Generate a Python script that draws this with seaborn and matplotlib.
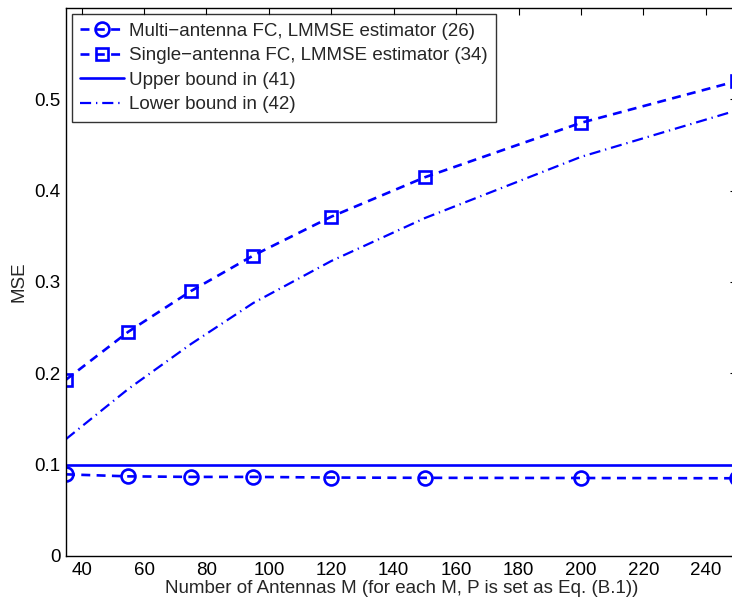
import numpy as np
import pandas as pd
import seaborn as sns
import matplotlib.pyplot as plt

# antennas M and MSE values
antennas = [35, 55, 75, 95, 120, 150, 200, 250]
mse_multi = [0.0894, 0.0872, 0.0866, 0.0866, 0.0859, 0.0856, 0.0854, 0.0851]
mse_single = [0.193, 0.2456, 0.290, 0.329, 0.3715, 0.4147, 0.4743, 0.520]
upper_bound = [0.1, 0.1, 0.1, 0.1, 0.1, 0.1, 0.1, 0.1]
lower_bound = [0.128, 0.183, 0.232, 0.277, 0.323, 0.370, 0.437, 0.488]

labels = ["Multi\u2212antenna FC, LMMSE estimator (26)",
          "Single\u2212antenna FC, LMMSE estimator (34)",
          "Upper bound in (41)",
          "Lower bound in (42)"]
x_ticks = [40, 60, 80, 100, 120, 140, 160, 180, 200, 220, 240]
y_ticks = [0, 0.1, 0.2, 0.3, 0.4, 0.5]

sns.set_theme(style="white")
plt.rcParams['font.family'] = ['Liberation Sans', 'DejaVu Sans']
fs = 13.5
plt.rcParams['font.size'] = fs

fig = plt.figure(figsize=(7.32, 6.06), dpi=100)
ax = fig.add_axes([66/732, 50/606, 671/732, 548/606])

lw = 1.9
sns.lineplot(x=antennas, y=mse_multi, ax=ax, color="blue", lw=lw,
             linestyle=(0, (3.4, 2.4)), marker="o", markersize=10,
             markerfacecolor="none", markeredgecolor="blue", markeredgewidth=1.9,
             label=labels[0])
sns.lineplot(x=antennas, y=mse_single, ax=ax, color="blue", lw=lw,
             linestyle=(0, (3.4, 2.4)), marker="s", markersize=8,
             markerfacecolor="none", markeredgecolor="blue", markeredgewidth=1.9,
             label=labels[1])
sns.lineplot(x=antennas, y=upper_bound, ax=ax, color="blue", lw=lw,
             linestyle="-", label=labels[2])
sns.lineplot(x=antennas, y=lower_bound, ax=ax, color="blue", lw=1.6,
             linestyle=(0, (5, 2.2, 0.6, 2.2)), label=labels[3])

ax.set_xlim(35, 250)
ax.set_ylim(0, 0.6)
ax.set_xticks(x_ticks)
ax.set_yticks(y_ticks)
ax.set_yticklabels(["0", "0.1", "0.2", "0.3", "0.4", "0.5"])
ax.tick_params(direction="in", length=5, width=0.8, top=True, right=True,
               colors="black", labelsize=fs, pad=4)
for s in ax.spines.values():
    s.set_color("black")
    s.set_linewidth(1.0)

ax.set_xlabel("Number of Antennas M (for each M, P is set as Eq. (B.1))", fontsize=fs, labelpad=1)
ax.set_ylabel("MSE", fontsize=fs, labelpad=5)

leg = ax.legend(loc="upper left", bbox_to_anchor=(0.009, 0.989), borderaxespad=0,
                fontsize=fs, frameon=True, fancybox=False, shadow=False,
                handlelength=2.3, handletextpad=0.3, labelspacing=0.4,
                borderpad=0.45)
leg.get_frame().set_edgecolor("black")
leg.get_frame().set_linewidth(1.0)

fig.savefig("out.png", dpi=100)
